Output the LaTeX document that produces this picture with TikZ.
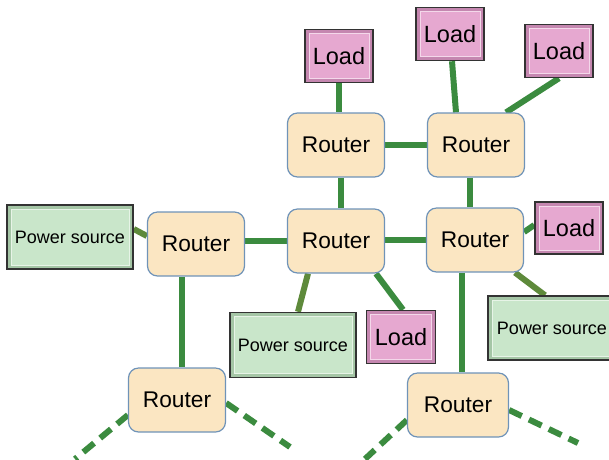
\documentclass[tikz,border=0pt]{standalone}
\usepackage{fontspec}
\setmainfont{Liberation Sans}
\usetikzlibrary{calc}
\definecolor{routerfill}{HTML}{FBE6C2}
\definecolor{routerdraw}{HTML}{6F93B8}
\definecolor{loadfill}{HTML}{E6A8D0}
\definecolor{loadbevel}{HTML}{C587B0}
\definecolor{powerfill}{HTML}{C9E6CA}
\definecolor{powerbevel}{HTML}{A5C6A6}
\definecolor{linkgreen}{HTML}{3B8B3F}
\definecolor{linkolive}{HTML}{5E8A3B}
\pgfdeclarelayer{bg}
\pgfsetlayers{bg,main}
\tikzset{
  router/.style={draw=routerdraw, line width=1.2pt, fill=routerfill, rounded corners=10pt,
    minimum width=97pt, minimum height=64pt, inner sep=0pt,
    font=\fontsize{22.7}{26}\selectfont},
  bevelbox/.style 2 args={draw=black!80, line width=1.5pt, fill=#2, inner sep=0pt,
    path picture={
      \fill[#1] ([shift={(4pt,4pt)}]path picture bounding box.south west)
        rectangle ([shift={(-4pt,-4pt)}]path picture bounding box.north east);
      \draw[white!55!#1, line width=0.8pt] ([shift={(4pt,4pt)}]path picture bounding box.south west)
        rectangle ([shift={(-4pt,-4pt)}]path picture bounding box.north east);
    }},
  loadbox/.style={bevelbox={loadfill}{loadbevel}, minimum width=68pt, minimum height=53pt,
    font=\fontsize{23.5}{26}\selectfont},
  powerbox/.style={bevelbox={powerfill}{powerbevel}, minimum width=126pt, minimum height=64pt,
    font=\fontsize{18}{21}\selectfont},
  link/.style={draw=linkgreen, line width=6pt},
  olivelink/.style={draw=linkolive, line width=6pt},
  dashlink/.style={draw=linkgreen, line width=6pt, dash pattern=on 14pt off 8pt},
}
\begin{document}
\begin{tikzpicture}[x=1pt,y=-1pt]
\useasboundingbox (0,0) rectangle (609,459);
% routers
\node[router] (R1) at (336,145) {Router};
\node[router] (R2) at (476,145) {Router};
\node[router] (R3) at (196,244) {Router};
\node[router] (R4) at (336,241) {Router};
\node[router] (R5) at (475,240) {Router};
\node[router] (R6) at (177,400) {Router};
\node[router, minimum width=101pt] (R7) at (458,405) {Router};
% loads
\node[loadbox] (L1) at (339,56) {Load};
\node[loadbox] (L2) at (450,34) {Load};
\node[loadbox] (L3) at (559,51) {Load};
\node[loadbox, minimum height=52pt] (L4) at (569,228) {Load};
\node[loadbox, minimum width=69pt] (L5) at (401,337) {Load};
% power sources
\node[powerbox] (P1) at (70,237) {Power source};
\node[powerbox, minimum height=65pt] (P2) at (293,345) {Power source};
\node[powerbox, minimum width=128pt] (P3) at (552,328) {Power source};
% free ends of dashed links
\coordinate (d1) at (75,459);
\coordinate (d2) at (290,447);
\coordinate (d3) at (365,459);
\coordinate (d4) at (578,443);
\begin{pgfonlayer}{bg}
\draw[link] (L1.south) -- (L1.south |- R1.north);
\draw[link] ([xshift=2pt]L2.south) -- ([xshift=-20pt]R2.north);
\draw[link] (L3.south) -- ([xshift=30pt]R2.north);
\draw[link] (R1.east) -- (R1.east -| R2.west);
\draw[link] ([xshift=5pt]R1.south) -- ([xshift=5pt]R1.south |- R4.north);
\draw[link] ([xshift=-6pt]R2.south) -- ([xshift=-6pt]R2.south |- R5.north);
\draw[link] (R4.west) -- (R4.west -| R3.east);
\draw[link] ([yshift=1pt]R4.east) -- ([yshift=1pt]R4.east -| R5.west);
\draw[olivelink] ([yshift=8pt]P1.east) -- ([yshift=8pt]R3.west);
\draw[link] ([xshift=-14pt]R3.south) -- ([xshift=-14pt]R3.south |- R6.north);
\draw[olivelink] ([xshift=-28pt]R4.south) -- ([xshift=5pt]P2.north);
\draw[link] ([xshift=40pt]R4.south) -- ([xshift=2pt]L5.north);
\draw[link] ([yshift=8pt]R5.east) -- ([yshift=3pt]L4.west);
\draw[olivelink] ([xshift=40pt]R5.south) -- ([xshift=-7pt]P3.north);
\draw[link] ([xshift=-13pt]R5.south) -- ([xshift=-13pt]R5.south |- R7.north);
\draw[dashlink] ([yshift=-15pt]R6.west) -- (d1);
\draw[dashlink] ([yshift=-3pt]R6.east) -- (d2);
\draw[dashlink] ([yshift=-15pt]R7.west) -- (d3);
\draw[dashlink] ([yshift=-5pt]R7.east) -- (d4);
\end{pgfonlayer}
\end{tikzpicture}
\end{document}
